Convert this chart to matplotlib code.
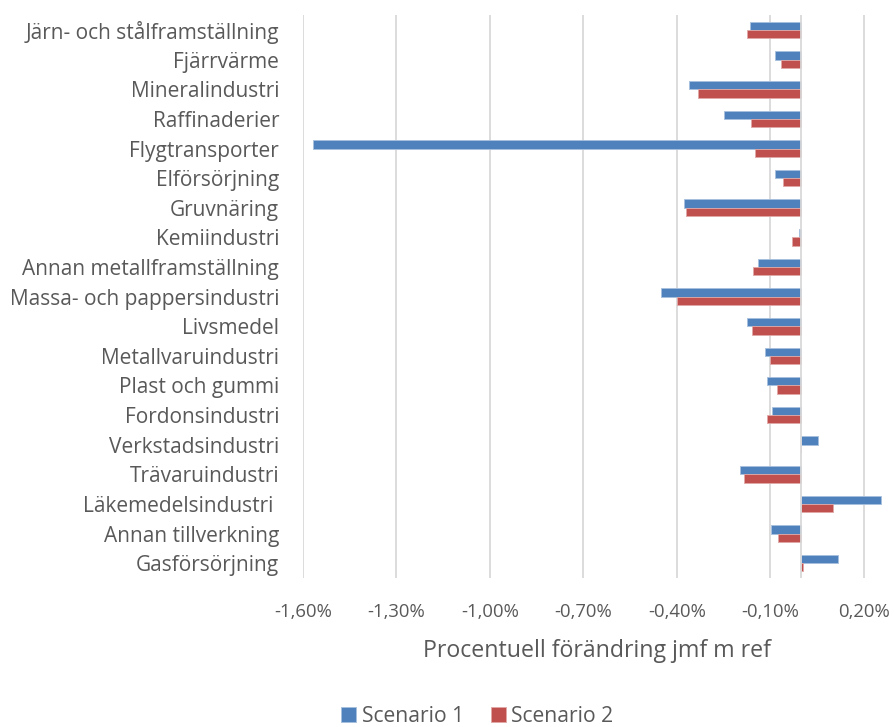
import numpy as np
import matplotlib
matplotlib.use("Agg")
import matplotlib.pyplot as plt
from matplotlib.ticker import FixedLocator, FuncFormatter

# -------------------------------
# Data (procent)
# -------------------------------
categories = [
    "Järn- och stålframställning",
    "Fjärrvärme",
    "Mineralindustri",
    "Raffinaderier",
    "Flygtransporter",
    "Elförsörjning",
    "Gruvnäring",
    "Kemiindustri",
    "Annan metallframställning",
    "Massa- och pappersindustri",
    "Livsmedel",
    "Metallvaruindustri",
    "Plast och gummi",
    "Fordonsindustri",
    "Verkstadsindustri",
    "Trävaruindustri",
    "Läkemedelsindustri ",
    "Annan tillverkning",
    "Gasförsörjning",
]
scenario1 = [-0.165, -0.085, -0.360, -0.249, -1.566, -0.085, -0.377, -0.008,
             -0.141, -0.450, -0.175, -0.118, -0.110, -0.095, 0.054, -0.197,
             0.256, -0.099, 0.118]
scenario2 = [-0.174, -0.065, -0.331, -0.161, -0.149, -0.060, -0.370, -0.031,
             -0.155, -0.400, -0.158, -0.101, -0.077, -0.109, 0.000, -0.185,
             0.100, -0.076, 0.006]
xticks = [-1.6, -1.3, -1.0, -0.7, -0.4, -0.1, 0.2]
legend_labels = ["Scenario 1", "Scenario 2"]
xlabel = "Procentuell förändring jmf m ref"

blue = "#4F81BD"
red = "#C0504D"
grey_text = "#595959"
grid_col = "#D9D9D9"

plt.rcParams['font.family'] = ['Open Sans', 'DejaVu Sans']

# -------------------------------
# Figure
# -------------------------------
fig = plt.figure(figsize=(8.94, 7.27), dpi=100)
ax = fig.add_axes([0.3386, 0.205, 0.659, 0.774])

y = np.arange(len(categories))
h = 0.28
ax.barh(y - h / 2, scenario1, height=h, color=blue, edgecolor="#A7C0DE",
        linewidth=0.6, label=legend_labels[0], zorder=3)
ax.barh(y + h / 2, scenario2, height=h, color=red, edgecolor="#DFA8A6",
        linewidth=0.6, label=legend_labels[1], zorder=3)

ax.set_ylim(len(categories) - 0.5, -0.5)
ax.set_xlim(-1.6, 0.29)

ax.set_yticks(y)
ax.set_yticklabels(categories, fontsize=15, color=grey_text)
ax.xaxis.set_major_locator(FixedLocator(xticks))
ax.xaxis.set_major_formatter(FuncFormatter(lambda v, p: f"{v:.2f}%".replace(".", ",")))
ax.tick_params(axis="x", labelsize=13.3, labelcolor=grey_text, length=0, pad=18)
ax.tick_params(axis="y", length=0, pad=17)

for v in xticks:
    ax.axvline(v, color=grid_col, linewidth=1.3, zorder=1)
ax.axvline(0, color=grid_col, linewidth=1.3, zorder=4)

for s in ax.spines.values():
    s.set_visible(False)

ax.set_xlabel(xlabel, fontsize=16.7, color=grey_text, labelpad=13)

leg = fig.legend(loc="center", bbox_to_anchor=(0.534, 0.015), ncol=2,
                 frameon=False, fontsize=15.2, handlelength=0.7,
                 handleheight=0.7, handletextpad=0.25, columnspacing=1.3)
for t in leg.get_texts():
    t.set_color(grey_text)

fig.savefig("out.png", dpi=100)
